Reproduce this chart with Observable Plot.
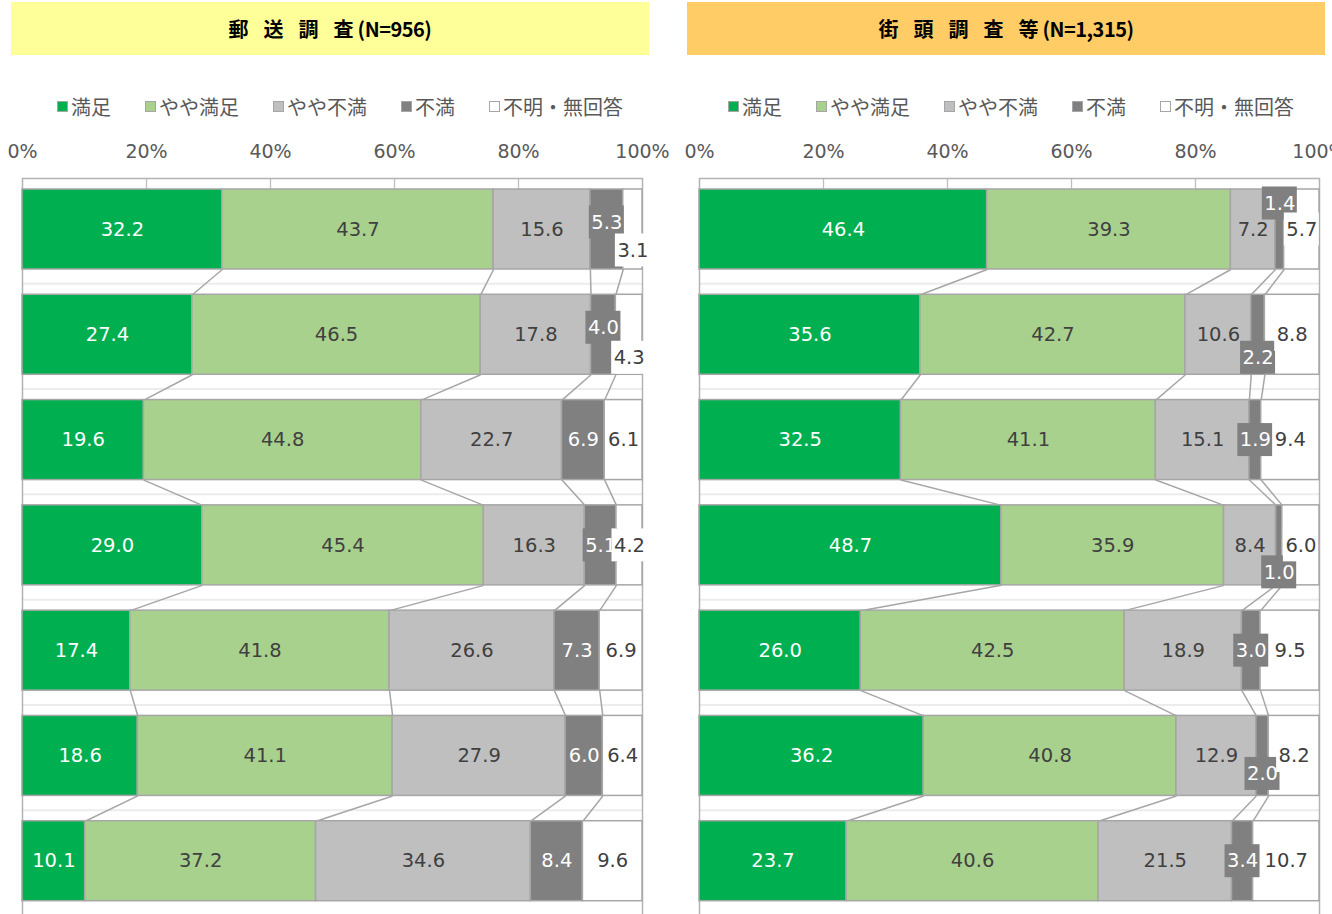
<!DOCTYPE html>
<html><head><meta charset="utf-8">
<script src="https://cdn.jsdelivr.net/npm/d3@7"></script>
<script src="https://cdn.jsdelivr.net/npm/@observablehq/plot@0.6"></script>
<style>
body{margin:0;background:#fff;width:1332px;height:914px;overflow:hidden;position:relative;font-family:"Noto Sans CJK JP",sans-serif;}
.title{position:absolute;top:2px;height:53px;width:638px;display:flex;align-items:center;justify-content:center;font-weight:700;font-size:20px;color:#000;}
.title .sp{letter-spacing:15px;}
.title .n{margin-left:4px;letter-spacing:-0.5px;}
.legend{position:absolute;top:92px;height:28px;display:flex;align-items:center;gap:34px;font-size:20px;color:#595959;white-space:nowrap;}
.item{display:flex;align-items:center;}
.sw{width:9px;height:9px;border:1px solid #a6a6a6;margin-right:3px;}
.chart{position:absolute;top:130px;width:666px;}
.chart svg{overflow:visible;}
.chart svg text{font-family:"DejaVu Sans",sans-serif;}
</style>
</head><body>
<div class="title" id="t1" style="left:11px;background:#ffff99"></div>
<div class="title" id="t2" style="left:687px;background:#ffcc66"></div>
<div class="legend" id="lg1" style="left:57px"></div>
<div class="legend" id="lg2" style="left:728px"></div>
<div class="chart" id="c1" style="left:0px"></div>
<div class="chart" id="c2" style="left:666px"></div>
<script>
// ---- data ----
const series = ["満足", "やや満足", "やや不満", "不満", "不明・無回答"];
const seriesColors = ["#00b050", "#a9d18e", "#bfbfbf", "#808080", "#ffffff"];
const labelColors = ["#ffffff", "#404040", "#404040", "#ffffff", "#404040"];
const xTicks = [0, 20, 40, 60, 80, 100];

const mailTitle = "郵送調査";
const mailN = "(N=956)";
const mailSatisfied          = [32.2, 27.4, 19.6, 29.0, 17.4, 18.6, 10.1];
const mailSomewhatSatisfied  = [43.7, 46.5, 44.8, 45.4, 41.8, 41.1, 37.2];
const mailSomewhatDissat     = [15.6, 17.8, 22.7, 16.3, 26.6, 27.9, 34.6];
const mailDissatisfied       = [5.3, 4.0, 6.9, 5.1, 7.3, 6.0, 8.4];
const mailUnknown            = [3.1, 4.3, 6.1, 4.2, 6.9, 6.4, 9.6];

const streetTitle = "街頭調査等";
const streetN = "(N=1,315)";
const streetSatisfied         = [46.4, 35.6, 32.5, 48.7, 26.0, 36.2, 23.7];
const streetSomewhatSatisfied = [39.3, 42.7, 41.1, 35.9, 42.5, 40.8, 40.6];
const streetSomewhatDissat    = [7.2, 10.6, 15.1, 8.4, 18.9, 12.9, 21.5];
const streetDissatisfied      = [1.4, 2.2, 1.9, 1.0, 3.0, 2.0, 3.4];
const streetUnknown           = [5.7, 8.8, 9.4, 6.0, 9.5, 8.2, 10.7];

// label vertical nudges (px), key "row-series"
const mailNudge = {"0-3": -7, "0-4": 21, "1-3": -7, "1-4": 23};
const streetNudge = {"0-3": -26, "1-3": 23, "3-3": 27, "5-3": 18};

// ---- titles & legends ----
function setTitle(id, t, n) {
  const el = document.getElementById(id);
  el.innerHTML = `<span class="sp">${t.slice(0, -1)}</span><span>${t.slice(-1)}</span><span class="n">${n}</span>`;
}
setTitle("t1", mailTitle, mailN);
setTitle("t2", streetTitle, streetN);
function legend(id) {
  const el = document.getElementById(id);
  series.forEach((s, i) => {
    const it = document.createElement("div");
    it.className = "item";
    it.innerHTML = `<span class="sw" style="background:${seriesColors[i]}"></span><span>${s}</span>`;
    el.appendChild(it);
  });
}
legend("lg1"); legend("lg2");

// ---- charts ----
function panel(values, nudges, marginLeft, marginRight) {
  const width = 666, height = 785, marginTop = 48, marginBottom = 0;
  const nRows = values[0].length;
  const innerW = width - marginLeft - marginRight;
  const innerH = height - marginTop - marginBottom;
  const rowPx = innerH / nRows;
  const barTop = 11 / rowPx, barH = 80 / rowPx;
  const segs = [], labels = [], boxes = [], links = [], cums = [];
  for (let r = 0; r < nRows; r++) {
    const vals = values.map(s => s[r]);
    const total = d3.sum(vals);
    let acc = 0; const c = [];
    vals.forEach((v, k) => {
      const x1 = acc / total * 100; acc += v; const x2 = acc / total * 100;
      c.push(x2);
      segs.push({k, x1, x2, y1: r + barTop, y2: r + barTop + barH});
      const dyPx = nudges[`${r}-${k}`] || 0;
      const yc = r + barTop + barH / 2 + dyPx / rowPx;
      const label = v.toFixed(1);
      const xc = (x1 + x2) / 2;
      labels.push({k, x: xc, y: yc, label});
      if (k >= 3) {
        const wPx = label.replace(".", "").length * 12.4 + 6.2 + 4;
        const hw = wPx / 2 / innerW * 100, hh = 16.5 / rowPx;
        boxes.push({k, x1: xc - hw, x2: xc + hw, y1: yc - hh, y2: yc + hh});
      }
    });
    cums.push(c);
  }
  for (let r = 0; r < nRows - 1; r++) {
    for (let k = 0; k < series.length - 1; k++) {
      links.push({x1: cums[r][k], y1: r + barTop + barH, x2: cums[r + 1][k], y2: r + 1 + barTop});
    }
  }
  const fillOf = d => seriesColors[d.k];
  const labelMarks = [];
  labelMarks.push(Plot.text(labels.filter(d => d.k < 3), {x: "x", y: "y", text: "label", fill: d => labelColors[d.k], fontSize: 19.5, fontFamily: "DejaVu Sans"}));
  for (const k of [3, 4]) {
    labelMarks.push(Plot.rect(boxes.filter(d => d.k === k), {x1: "x1", x2: "x2", y1: "y1", y2: "y2", fill: fillOf}));
    labelMarks.push(Plot.text(labels.filter(d => d.k === k), {x: "x", y: "y", text: "label", fill: d => labelColors[d.k], fontSize: 19.5, fontFamily: "DejaVu Sans"}));
  }
  return Plot.plot({
    width, height, marginTop, marginBottom, marginLeft, marginRight,
    style: {fontFamily: "DejaVu Sans", fontSize: "19px", background: "transparent"},
    x: {domain: [0, 100], axis: null},
    y: {domain: [0, nRows], reverse: true, axis: null},
    marks: [
      Plot.ruleY(d3.range(1, nRows), {stroke: "#ececec", strokeWidth: 2}),
      Plot.ruleX(xTicks.slice(1, -1), {y1: 0, y2: barTop, stroke: "#bfbfbf", strokeWidth: 1.3}),
      Plot.frame({stroke: "#b3b3b3", strokeWidth: 1.5}),
      Plot.link(links, {x1: "x1", y1: "y1", x2: "x2", y2: "y2", stroke: "#a6a6a6", strokeWidth: 1.5}),
      Plot.rect(segs, {x1: "x1", x2: "x2", y1: "y1", y2: "y2", fill: fillOf, stroke: "#a6a6a6", strokeWidth: 1.5}),
      ...labelMarks,
      Plot.axisX(xTicks, {anchor: "top", tickSize: 0, tickPadding: 21, tickFormat: d => d + "%", fontSize: 19, fill: "#595959", fontFamily: "DejaVu Sans"})
    ]
  });
}

document.getElementById("c1").appendChild(panel(
  [mailSatisfied, mailSomewhatSatisfied, mailSomewhatDissat, mailDissatisfied, mailUnknown], mailNudge, 22, 24));
document.getElementById("c2").appendChild(panel(
  [streetSatisfied, streetSomewhatSatisfied, streetSomewhatDissat, streetDissatisfied, streetUnknown], streetNudge, 33, 13));
</script>
</body></html>
